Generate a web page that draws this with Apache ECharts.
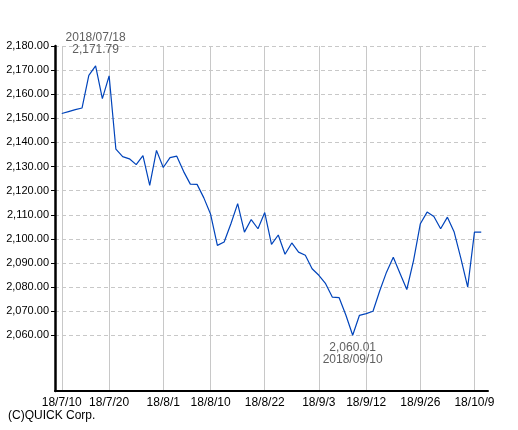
<!DOCTYPE html>
<html>
<head>
<meta charset="utf-8">
<script src="https://cdn.jsdelivr.net/npm/echarts@6/dist/echarts.min.js"></script>
<style>
  html, body { margin: 0; padding: 0; background: #fff; }
  #chart { width: 518px; height: 430px; }
</style>
</head>
<body>
<div id="chart"></div>
<script>
// Trading dates
var dates = [
  '2018/07/10','2018/07/11','2018/07/12','2018/07/13','2018/07/17','2018/07/18','2018/07/19','2018/07/20',
  '2018/07/23','2018/07/24','2018/07/25','2018/07/26','2018/07/27','2018/07/30','2018/07/31','2018/08/01',
  '2018/08/02','2018/08/03','2018/08/06','2018/08/07','2018/08/08','2018/08/09','2018/08/10','2018/08/13',
  '2018/08/14','2018/08/15','2018/08/16','2018/08/17','2018/08/20','2018/08/21','2018/08/22','2018/08/23',
  '2018/08/24','2018/08/27','2018/08/28','2018/08/29','2018/08/30','2018/08/31','2018/09/03','2018/09/04',
  '2018/09/05','2018/09/06','2018/09/07','2018/09/10','2018/09/11','2018/09/12','2018/09/13','2018/09/14',
  '2018/09/18','2018/09/19','2018/09/20','2018/09/21','2018/09/25','2018/09/26','2018/09/27','2018/09/28',
  '2018/10/01','2018/10/02','2018/10/03','2018/10/04','2018/10/05','2018/10/09','2018/10/10'
];
// Index values
var values = [
  2152.0, 2152.8, 2153.6, 2154.3, 2167.8, 2171.79, 2158.2, 2167.6,
  2137.2, 2134.1, 2133.2, 2130.8, 2134.5, 2122.2, 2136.7, 2129.6,
  2133.7, 2134.3, 2128.0, 2122.7, 2122.6, 2117.0, 2110.2, 2097.3,
  2098.7, 2106.3, 2114.6, 2102.8, 2108.0, 2104.2, 2110.9, 2097.7,
  2101.6, 2093.6, 2098.3, 2094.5, 2093.2, 2087.6, 2084.9, 2081.4,
  2075.8, 2075.6, 2068.3, 2060.01, 2068.3, 2069.0, 2070.0, 2078.5,
  2086.2, 2092.4, 2085.6, 2079.0, 2091.1, 2106.3, 2111.1, 2109.3,
  2104.2, 2109.0, 2102.8, 2091.8, 2080.0, 2102.8, 2102.8
];
// X tick labels shown
var xTickLabels = ['18/7/10','18/7/20','18/8/1','18/8/10','18/8/22','18/9/3','18/9/12','18/9/26','18/10/9'];
// Y tick values
var yTicks = [2060, 2070, 2080, 2090, 2100, 2110, 2120, 2130, 2140, 2150, 2160, 2170, 2180];

function shortDate(d) {
  var p = d.split('/');
  return p[0].slice(2) + '/' + parseInt(p[1], 10) + '/' + parseInt(p[2], 10);
}
function fmt(v) {
  return v.toLocaleString('en-US', { minimumFractionDigits: 2, maximumFractionDigits: 2 });
}

var categories = [''].concat(dates.map(shortDate)).concat(['']);
var seriesData = [null].concat(values).concat([null]);
var showTick = function (idx, val) { return xTickLabels.indexOf(val) >= 0; };

var chart = echarts.init(document.getElementById('chart'), null, { renderer: 'canvas' });
chart.setOption({
  animation: false,
  backgroundColor: '#fff',
  grid: { left: 55, right: 30, top: 46, bottom: 39, containLabel: false },
  xAxis: {
    type: 'category',
    data: categories,
    boundaryGap: false,
    axisLine: { show: true, lineStyle: { color: '#000', width: 2 } },
    axisTick: { show: false },
    axisLabel: {
      interval: showTick,
      color: '#000',
      fontSize: 12,
      fontFamily: 'Liberation Sans, Arial, sans-serif',
      margin: 6
    },
    splitLine: {
      show: true,
      interval: showTick,
      lineStyle: { color: '#c8c8c8', width: 1, type: 'solid' }
    }
  },
  yAxis: {
    type: 'value',
    min: 2036.9,
    max: 2180,
    axisLine: { show: true, lineStyle: { color: '#000', width: 2.5 } },
    axisTick: { show: true, customValues: yTicks, length: 4, lineStyle: { color: '#000', width: 1 } },
    axisLabel: {
      customValues: yTicks,
      color: '#000',
      fontSize: 11,
      fontFamily: 'Liberation Sans, Arial, sans-serif',
      margin: 6,
      formatter: function (v) { return fmt(v); }
    },
    splitLine: {
      show: true,
      lineStyle: { color: '#c8c8c8', width: 1, type: [4, 3] }
    }
  },
  series: [{
    type: 'line',
    data: seriesData,
    symbol: 'none',
    lineStyle: { color: '#0044bb', width: 1.2 },
    markPoint: {
      symbol: 'circle',
      symbolSize: 0,
      itemStyle: { color: 'transparent' },
      data: [
        {
          type: 'max',
          label: {
            show: true, position: 'top', distance: 10,
            color: '#606060', fontSize: 12, lineHeight: 12,
            fontFamily: 'Liberation Sans, Arial, sans-serif',
            formatter: function (p) {
              var i = values.indexOf(Math.max.apply(null, values));
              return dates[i] + '\n' + fmt(values[i]);
            }
          }
        },
        {
          type: 'min',
          label: {
            show: true, position: 'bottom', distance: 6,
            color: '#606060', fontSize: 12, lineHeight: 12,
            fontFamily: 'Liberation Sans, Arial, sans-serif',
            formatter: function (p) {
              var i = values.indexOf(Math.min.apply(null, values));
              return fmt(values[i]) + '\n' + dates[i];
            }
          }
        }
      ]
    }
  }],
  graphic: [{
    type: 'text',
    left: 8,
    top: 410,
    style: {
      text: '(C)QUICK Corp.',
      fill: '#000',
      font: '12px "Liberation Sans", Arial, sans-serif'
    }
  }]
});
</script>
</body>
</html>
